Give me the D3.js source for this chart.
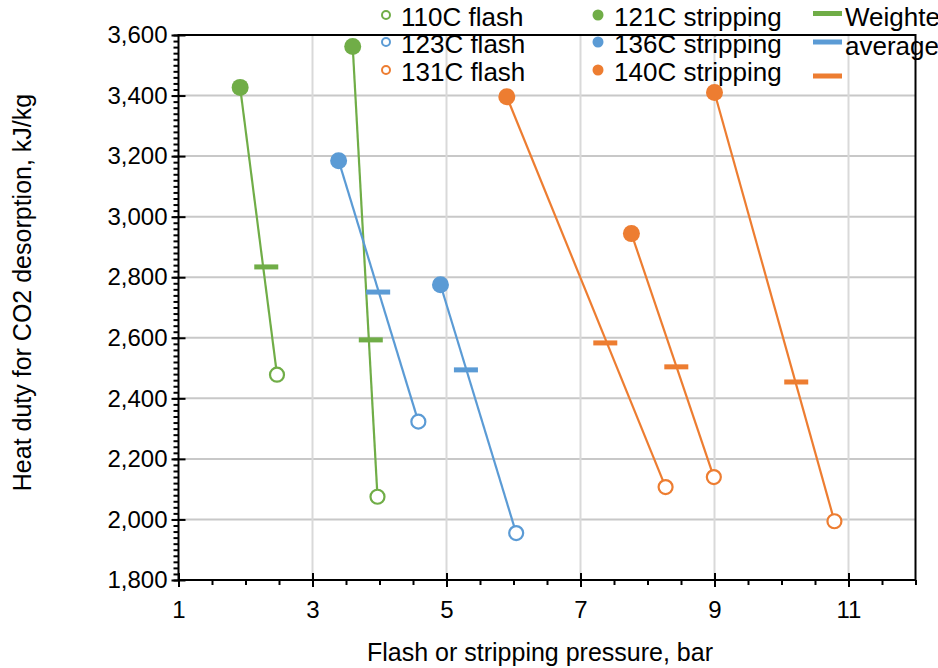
<!DOCTYPE html>
<html>
<head>
<meta charset="utf-8">
<script src="https://cdn.jsdelivr.net/npm/d3@7"></script>
<style>
  body { margin: 0; background: #fff; }
  svg { display: block; font-family: "Liberation Sans", Arial, sans-serif; }
</style>
</head>
<body>
<div id="chart"></div>
<script>
// values, one entry per stripping -> flash case
var caseGroup = [0, 0, 1, 1, 2, 2, 2];
var stripP = [1.92, 3.60, 3.39, 4.91, 5.90, 7.76, 9.00];
var stripQ = [3427, 3562, 3185, 2775, 3396, 2944, 3410];
var flashP = [2.47, 3.97, 4.58, 6.04, 8.27, 8.99, 10.79];
var flashQ = [2478, 2075, 2323, 1955, 2107, 2140, 1994];
var avgP = [2.31, 3.87, 3.98, 5.29, 7.37, 8.43, 10.22];
var avgQ = [2834, 2593, 2751, 2494, 2583, 2504, 2454];

var flashNames = ["110C flash", "123C flash", "131C flash"];
var stripNames = ["121C stripping", "136C stripping", "140C stripping"];
var avgName = "Weighted average";

var xTicks = [1, 3, 5, 7, 9, 11];
var yTicks = [1800, 2000, 2200, 2400, 2600, 2800, 3000, 3200, 3400, 3600];

var colors = ["#70ad47", "#5b9bd5", "#ed7d31"];

var W = 938, H = 668;
var x0 = 178.5, x1 = 915.5, yTop = 35, yBot = 580;

var svg = d3.select("#chart").append("svg")
  .attr("width", W).attr("height", H);

var x = d3.scaleLinear().domain([1, 12]).range([x0, x1]);
var y = d3.scaleLinear().domain([1800, 3600]).range([yBot, yTop]);

// gridlines
svg.append("g").selectAll("line.h")
  .data(yTicks.slice(1))
  .enter().append("line")
  .attr("x1", x0).attr("x2", x1)
  .attr("y1", function(d) { return y(d); })
  .attr("y2", function(d) { return y(d); })
  .attr("stroke", "#c8c8c8").attr("stroke-width", 2);

svg.append("g").selectAll("line.v")
  .data(xTicks.slice(1))
  .enter().append("line")
  .attr("x1", function(d) { return x(d); })
  .attr("x2", function(d) { return x(d); })
  .attr("y1", yTop).attr("y2", yBot)
  .attr("stroke", "#d9d9d9").attr("stroke-width", 2);

// minor ticks
var xMinor = d3.range(1, 12.01, 0.5);
var yMinor = d3.range(1800, 3600.1, 20);

svg.append("g")
  .attr("transform", "translate(0," + yBot + ")")
  .call(d3.axisBottom(x).tickValues(xMinor).tickSize(5).tickFormat(""))
  .call(function(g) { g.select(".domain").remove(); })
  .selectAll("line").attr("stroke", "#000").attr("stroke-width", 1.5);

svg.append("g")
  .attr("transform", "translate(" + x0 + ",0)")
  .call(d3.axisLeft(y).tickValues(yMinor).tickSize(5).tickFormat(""))
  .call(function(g) { g.select(".domain").remove(); })
  .selectAll("line").attr("stroke", "#000").attr("stroke-width", 1.5);

// major ticks (crossing the axis) and labels
var xAxis = svg.append("g")
  .attr("transform", "translate(0," + yBot + ")")
  .call(d3.axisBottom(x).tickValues(xTicks).tickSize(7).tickPadding(14).tickFormat(d3.format("d")));
xAxis.select(".domain").remove();
svg.append("g")
  .attr("transform", "translate(0," + yBot + ")")
  .call(d3.axisTop(x).tickValues(xTicks).tickSize(7).tickFormat(""))
  .call(function(g) { g.select(".domain").remove(); });

var yAxis = svg.append("g")
  .attr("transform", "translate(" + x0 + ",0)")
  .call(d3.axisLeft(y).tickValues(yTicks).tickSize(7).tickPadding(4).tickFormat(d3.format(",")));
yAxis.select(".domain").remove();
svg.append("g")
  .attr("transform", "translate(" + x0 + ",0)")
  .call(d3.axisRight(y).tickValues(yTicks).tickSize(7).tickFormat(""))
  .call(function(g) { g.select(".domain").remove(); });

svg.selectAll(".tick line").attr("stroke", "#000").attr("stroke-width", 2);
svg.selectAll(".tick text")
  .attr("fill", "#000")
  .style("font-size", "24px")
  .style("font-family", "'Liberation Sans', Arial, sans-serif");

// plot frame
svg.append("rect")
  .attr("x", x0).attr("y", yTop)
  .attr("width", x1 - x0).attr("height", yBot - yTop)
  .attr("fill", "none").attr("stroke", "#000").attr("stroke-width", 2);

// axis titles
svg.append("text")
  .attr("x", 540)
  .attr("y", 661)
  .attr("text-anchor", "middle")
  .style("font-size", "25px")
  .text("Flash or stripping pressure, bar");

svg.append("text")
  .attr("transform", "translate(31," + ((yTop + yBot) / 2 - 15) + ") rotate(-90)")
  .attr("text-anchor", "middle")
  .style("font-size", "25px")
  .text("Heat duty for CO2 desorption, kJ/kg");

// connecting lines stripping -> flash
var idx = d3.range(stripP.length);
svg.append("g").selectAll("line.link")
  .data(idx)
  .enter().append("line")
  .attr("x1", function(i) { return x(stripP[i]); })
  .attr("y1", function(i) { return y(stripQ[i]); })
  .attr("x2", function(i) { return x(flashP[i]); })
  .attr("y2", function(i) { return y(flashQ[i]); })
  .attr("stroke", function(i) { return colors[caseGroup[i]]; })
  .attr("stroke-width", 2.2);

// weighted average dashes
svg.append("g").selectAll("rect.avg")
  .data(idx)
  .enter().append("rect")
  .attr("x", function(i) { return x(avgP[i]) - 12; })
  .attr("y", function(i) { return y(avgQ[i]) - 2.5; })
  .attr("width", 24).attr("height", 5)
  .attr("fill", function(i) { return colors[caseGroup[i]]; });

// flash points (open)
svg.append("g").selectAll("circle.flash")
  .data(idx)
  .enter().append("circle")
  .attr("cx", function(i) { return x(flashP[i]); })
  .attr("cy", function(i) { return y(flashQ[i]); })
  .attr("r", 7)
  .attr("fill", "#fff")
  .attr("stroke", function(i) { return colors[caseGroup[i]]; })
  .attr("stroke-width", 2.2);

// stripping points (filled)
svg.append("g").selectAll("circle.strip")
  .data(idx)
  .enter().append("circle")
  .attr("cx", function(i) { return x(stripP[i]); })
  .attr("cy", function(i) { return y(stripQ[i]); })
  .attr("r", 8.5)
  .attr("fill", function(i) { return colors[caseGroup[i]]; });

// legend
var rowY = [15, 42, 70];
var leg = svg.append("g").style("font-size", "26px");

flashNames.forEach(function(name, k) {
  leg.append("circle")
    .attr("cx", 386).attr("cy", rowY[k]).attr("r", 4)
    .attr("fill", "#fff").attr("stroke", colors[k]).attr("stroke-width", 2);
  leg.append("text").attr("x", 401).attr("y", rowY[k] + 11).text(name);
});

stripNames.forEach(function(name, k) {
  leg.append("circle")
    .attr("cx", 598).attr("cy", rowY[k]).attr("r", 5.5)
    .attr("fill", colors[k]);
  leg.append("text").attr("x", 614).attr("y", rowY[k] + 11).text(name);
});

[13.5, 42, 76].forEach(function(ly, k) {
  leg.append("rect")
    .attr("x", 813).attr("y", ly - 2.5)
    .attr("width", 29).attr("height", 5)
    .attr("fill", colors[k]);
});
leg.append("text").attr("x", 845).attr("y", 26).text(avgName.split(" ")[0]);
leg.append("text").attr("x", 845).attr("y", 55).text(avgName.split(" ")[1]);
</script>
</body>
</html>
